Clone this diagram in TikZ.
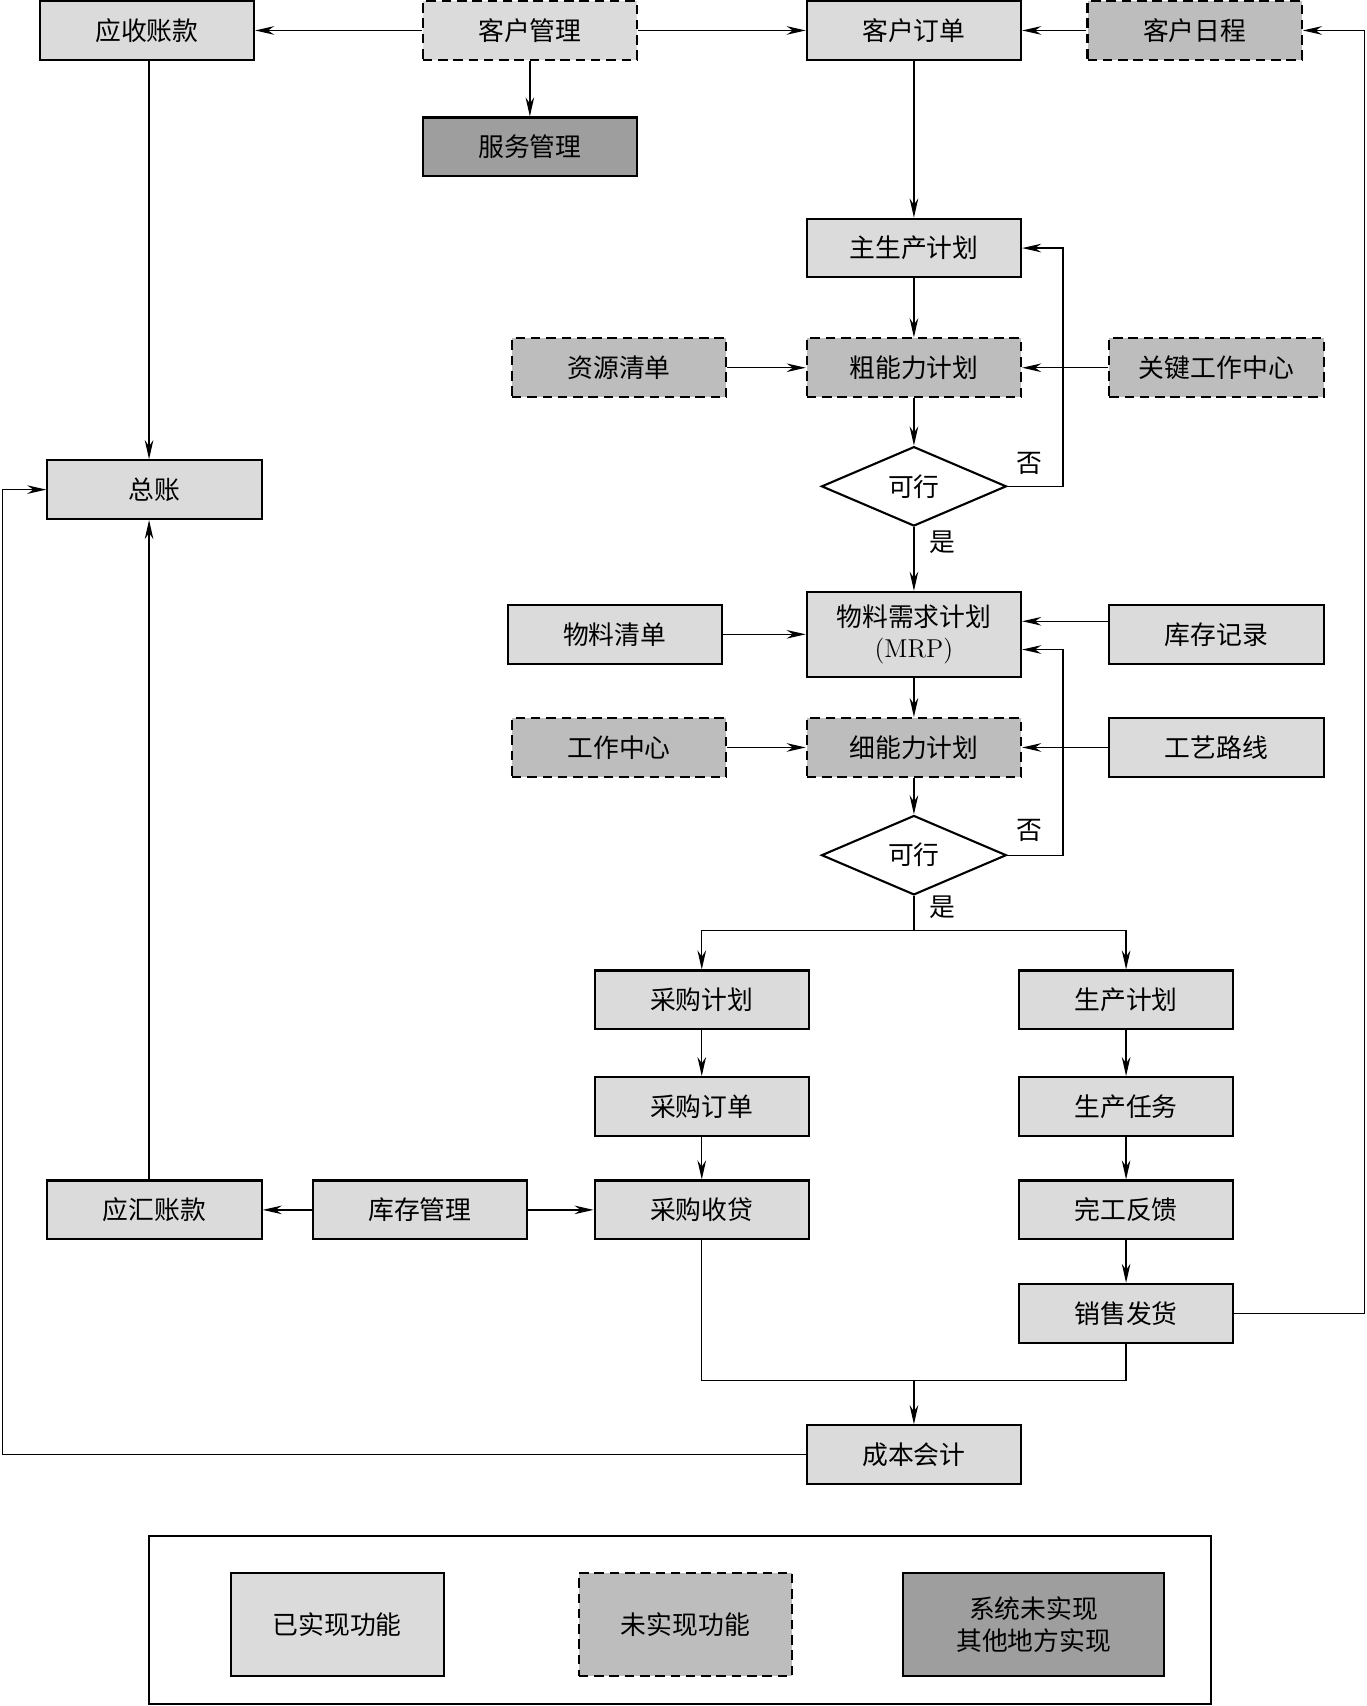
\documentclass[tikz,border=0pt]{standalone}
\usepackage{fontspec}
\newfontfamily\cjk{Noto Sans CJK SC}
\usetikzlibrary{arrows.meta,shapes.geometric}

\definecolor{fillA}{gray}{0.86}
\definecolor{fillB}{gray}{0.74}
\definecolor{fillC}{gray}{0.62}

\tikzset{
  box/.style={draw, line width=1.1pt, minimum width=3.94cm, minimum height=1.08cm,
    inner sep=0pt, align=center, font=\cjk\fontsize{13.5}{16.5}\selectfont},
  done/.style={box, fill=fillA},
  todo/.style={box, fill=fillB, dash pattern=on 5pt off 3pt},
  other/.style={box, fill=fillC},
  chk/.style={diamond, draw, line width=1.1pt, fill=white, minimum width=3.4cm,
    minimum height=1.46cm, inner sep=0pt, font=\cjk\fontsize{13.5}{16.5}\selectfont},
  lbl/.style={font=\cjk\fontsize{13.5}{16.5}\selectfont, inner sep=0pt},
  flow/.style={-{Stealth[length=10pt,width=4.5pt]}, line width=0.7pt},
  line/.style={line width=0.7pt}
}

\begin{document}
\begin{tikzpicture}[x=0.02cm,y=-0.02cm]
\useasboundingbox (0,0) rectangle (1256,1568);

% top row
\node[done] (ysk) at (135,28) {应收账款};
\node[done, dash pattern=on 5pt off 3pt] (khgl) at (487,28) {客户管理};
\node[done] (khdd) at (840,28) {客户订单};
\node[todo] (khrc) at (1098,28) {客户日程};
\node[other] (fwgl) at (487,135) {服务管理};

% planning column
\node[done] (zsc) at (840,228) {主生产计划};
\node[todo] (zyqd) at (569,338) {资源清单};
\node[todo] (cnl) at (840,338) {粗能力计划};
\node[todo] (gjzx) at (1118,338) {关键工作中心};
\node[done] (zz) at (142,450) {总账};
\node[chk] (kx1) at (840,447) {可行};
\node[lbl] (no1) at (946,426) {否};
\node[lbl] (yes1) at (866,498) {是};
\node[done] (wlqd) at (565,583) {物料清单};
\node[done, minimum height=1.56cm] (mrp) at (840,583) {物料需求计划\\{\rmfamily(MRP)}};
\node[done] (kcjl) at (1118,583) {库存记录};
\node[todo] (gzzx) at (569,687) {工作中心};
\node[todo] (xnl) at (840,687) {细能力计划};
\node[done] (gylx) at (1118,687) {工艺路线};
\node[chk] (kx2) at (840,786) {可行};
\node[lbl] (no2) at (946,763) {否};
\node[lbl] (yes2) at (866,834) {是};

% execution
\node[done] (cgjh) at (645,919) {采购计划};
\node[done] (scjh) at (1035,919) {生产计划};
\node[done] (cgdd) at (645,1017) {采购订单};
\node[done] (scrw) at (1035,1017) {生产任务};
\node[done] (yhzk) at (142,1112) {应汇账款};
\node[done] (kcgl) at (386,1112) {库存管理};
\node[done] (cgsh) at (645,1112) {采购收贷};
\node[done] (wgfk) at (1035,1112) {完工反馈};
\node[done] (xsfh) at (1035,1207) {销售发货};
\node[done] (cbkj) at (840,1337) {成本会计};

\coordinate (rtx) at (1254,0);
\coordinate (fb) at (977,0);
\coordinate (lfx) at (2,0);
\coordinate (ax) at (137,0);
\coordinate (sp) at (840,855);
\coordinate (mg) at (840,1269);

% connectors
\draw[flow] (khgl) -- (ysk);
\draw[flow] (khgl) -- (khdd);
\draw[flow] (khgl) -- (fwgl);
\draw[flow] (khrc) -- (khdd);
\draw[flow] (xsfh.east) -- (xsfh.east -| rtx) |- (khrc.east);
\draw[flow] (khdd) -- (zsc);
\draw[flow] (zsc) -- (cnl);
\draw[flow] (zyqd) -- (cnl);
\draw[flow] (gjzx) -- (cnl);
\draw[flow] (cnl) -- (kx1);
\draw[flow] (kx1) -- (mrp);
\draw[flow] (kx1.east) -- (kx1.east -| fb) |- (zsc.east);
\draw[flow] (wlqd) -- (mrp);
\draw[flow] ([yshift=0.24cm]kcjl.west) -- ([yshift=0.24cm]mrp.east);
\draw[flow] (kx2.east) -- (kx2.east -| fb) |- ([yshift=-0.28cm]mrp.east);
\draw[flow] (mrp) -- (xnl);
\draw[flow] (gzzx) -- (xnl);
\draw[flow] (gylx) -- (xnl);
\draw[flow] (xnl) -- (kx2);
\draw[line] (kx2.south) -- (sp);
\draw[flow] (sp) -| (cgjh.north);
\draw[flow] (sp) -| (scjh.north);
\draw[flow] (cgjh) -- (cgdd);
\draw[flow] (cgdd) -- (cgsh);
\draw[flow] (scjh) -- (scrw);
\draw[flow] (scrw) -- (wgfk);
\draw[flow] (wgfk) -- (xsfh);
\draw[flow] (kcgl) -- (yhzk);
\draw[flow] (kcgl) -- (cgsh);
\draw[flow] (ysk.south -| ax) -- (zz.north -| ax);
\draw[flow] (yhzk.north -| ax) -- (zz.south -| ax);
\draw[line] (cgsh.south) |- (mg);
\draw[line] (xsfh.south) |- (mg);
\draw[flow] (mg) -- (cbkj);
\draw[flow] (cbkj.west) -- (cbkj.west -| lfx) |- (zz.west);

% legend
\draw[line width=1.1pt] (137,1412) rectangle (1113,1566);
\node[done, minimum width=3.92cm, minimum height=1.9cm] (lg1) at (310,1493) {已实现功能};
\node[todo, minimum width=3.92cm, minimum height=1.9cm] (lg2) at (630,1493) {未实现功能};
\node[other, minimum width=4.8cm, minimum height=1.9cm] (lg3) at (950,1493) {系统未实现\\其他地方实现};
\end{tikzpicture}
\end{document}
